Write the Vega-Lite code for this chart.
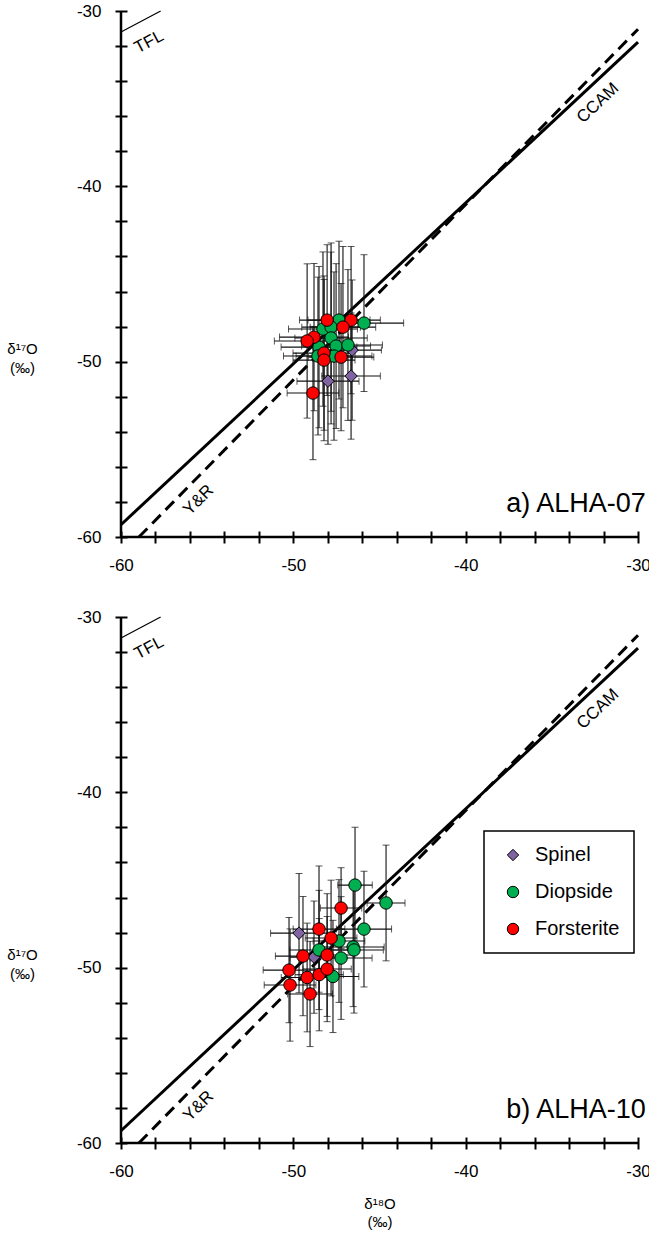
{
  "$schema": "https://vega.github.io/schema/vega-lite/v6.json",
  "padding": {"left": 6, "top": 2, "right": 0, "bottom": 5},
  "config": {
    "font": "Liberation Sans",
    "view": {"stroke": null},
    "axis": {"domain": false, "grid": false, "ticks": true, "tickColor": "#000", "tickWidth": 2, "tickSize": 12, "offset": -6, "labelFontSize": 17, "labelColor": "#000", "labelPadding": 14, "labelFlush": false, "labelOverlap": false, "titleColor": "#000", "titleFontWeight": "normal", "titleFontSize": 15},
    "legend": {"strokeColor": "#000", "strokeWidth": 1.5, "padding": 14, "labelFontSize": 20, "labelColor": "#000", "rowPadding": 17, "symbolSize": 130, "symbolStrokeColor": "#000", "symbolStrokeWidth": 1, "symbolOffset": 5, "labelOffset": 12}
  },
  "datasets": {
    "one": [{}],
    "lines": [
      {"line": "CCAM", "x": -60, "y": -59.3},
      {"line": "CCAM", "x": -30, "y": -31.77},
      {"line": "YR", "x": -58.96, "y": -60},
      {"line": "YR", "x": -30, "y": -31.04},
      {"line": "TFL", "x": -60, "y": -31.2},
      {"line": "TFL", "x": -57.7, "y": -30}
    ],
    "a": [
      {"phase": "Spinel", "x": -46.59, "y": -49.34, "xe": 1.7, "ye": 4.0},
      {"phase": "Spinel", "x": -47.99, "y": -51.11, "xe": 1.8, "ye": 3.6},
      {"phase": "Spinel", "x": -46.65, "y": -50.82, "xe": 1.7, "ye": 3.6},
      {"phase": "Diopside", "x": -45.90, "y": -47.80, "xe": 2.3, "ye": 3.9},
      {"phase": "Diopside", "x": -47.35, "y": -47.63, "xe": 1.8, "ye": 4.5},
      {"phase": "Diopside", "x": -48.28, "y": -48.14, "xe": 2.0, "ye": 4.4},
      {"phase": "Diopside", "x": -47.81, "y": -48.03, "xe": 1.7, "ye": 4.8},
      {"phase": "Diopside", "x": -48.51, "y": -49.17, "xe": 2.2, "ye": 4.6},
      {"phase": "Diopside", "x": -47.81, "y": -48.65, "xe": 2.1, "ye": 4.9},
      {"phase": "Diopside", "x": -47.52, "y": -49.11, "xe": 2.0, "ye": 4.7},
      {"phase": "Diopside", "x": -46.83, "y": -49.05, "xe": 2.0, "ye": 4.3},
      {"phase": "Diopside", "x": -48.57, "y": -49.68, "xe": 2.0, "ye": 4.5},
      {"phase": "Diopside", "x": -47.64, "y": -49.68, "xe": 2.2, "ye": 4.8},
      {"phase": "Forsterite", "x": -48.04, "y": -47.63, "xe": 1.6, "ye": 4.3},
      {"phase": "Forsterite", "x": -46.65, "y": -47.63, "xe": 1.7, "ye": 4.2},
      {"phase": "Forsterite", "x": -47.12, "y": -48.03, "xe": 1.9, "ye": 4.6},
      {"phase": "Forsterite", "x": -48.80, "y": -48.60, "xe": 2.0, "ye": 4.2},
      {"phase": "Forsterite", "x": -49.20, "y": -48.82, "xe": 1.9, "ye": 4.4},
      {"phase": "Forsterite", "x": -48.22, "y": -49.51, "xe": 1.8, "ye": 4.4},
      {"phase": "Forsterite", "x": -48.22, "y": -49.91, "xe": 1.8, "ye": 4.6},
      {"phase": "Forsterite", "x": -47.23, "y": -49.74, "xe": 1.9, "ye": 4.2},
      {"phase": "Forsterite", "x": -48.86, "y": -51.79, "xe": 1.5, "ye": 3.8}
    ],
    "b": [
      {"phase": "Spinel", "x": -49.67, "y": -48.03, "xe": 1.65, "ye": 3.4},
      {"phase": "Spinel", "x": -48.80, "y": -49.40, "xe": 1.4, "ye": 3.2},
      {"phase": "Diopside", "x": -46.42, "y": -45.29, "xe": 1.0, "ye": 3.3},
      {"phase": "Diopside", "x": -44.62, "y": -46.31, "xe": 1.1, "ye": 3.3},
      {"phase": "Diopside", "x": -45.90, "y": -47.80, "xe": 1.6, "ye": 3.3},
      {"phase": "Diopside", "x": -47.35, "y": -48.48, "xe": 1.5, "ye": 3.5},
      {"phase": "Diopside", "x": -46.53, "y": -48.82, "xe": 1.8, "ye": 3.4},
      {"phase": "Diopside", "x": -46.48, "y": -48.99, "xe": 1.7, "ye": 3.6},
      {"phase": "Diopside", "x": -48.51, "y": -48.99, "xe": 1.7, "ye": 3.4},
      {"phase": "Diopside", "x": -47.23, "y": -49.45, "xe": 1.8, "ye": 3.5},
      {"phase": "Diopside", "x": -47.70, "y": -50.50, "xe": 1.5, "ye": 3.2},
      {"phase": "Forsterite", "x": -47.23, "y": -46.60, "xe": 1.2, "ye": 2.3},
      {"phase": "Forsterite", "x": -48.51, "y": -47.80, "xe": 1.5, "ye": 3.6},
      {"phase": "Forsterite", "x": -47.81, "y": -48.31, "xe": 1.5, "ye": 3.3},
      {"phase": "Forsterite", "x": -49.44, "y": -49.34, "xe": 1.6, "ye": 3.4},
      {"phase": "Forsterite", "x": -48.04, "y": -49.28, "xe": 1.6, "ye": 3.5},
      {"phase": "Forsterite", "x": -50.25, "y": -50.14, "xe": 1.5, "ye": 3.0},
      {"phase": "Forsterite", "x": -50.19, "y": -50.99, "xe": 1.5, "ye": 3.2},
      {"phase": "Forsterite", "x": -49.20, "y": -50.56, "xe": 1.5, "ye": 3.1},
      {"phase": "Forsterite", "x": -49.03, "y": -51.50, "xe": 1.3, "ye": 3.0},
      {"phase": "Forsterite", "x": -48.50, "y": -50.40, "xe": 1.4, "ye": 3.2},
      {"phase": "Forsterite", "x": -48.04, "y": -50.08, "xe": 1.4, "ye": 3.0}
    ],
    "labels": [
      {"name": "TFL", "x": -58.37, "y": -31.77},
      {"name": "CCAM", "x": -32.32, "y": -35.25},
      {"name": "Y&R", "x": -55.5, "y": -57.9}
    ]
  },
  "spacing": 35,
  "resolve": {"scale": {"color": "independent", "shape": "independent"}, "legend": {"color": "independent", "shape": "independent"}},
  "vconcat": [
    {
      "width": 517, "height": 526,
      "layer": [
        {"data": {"name": "one"}, "mark": {"type": "rule", "color": "#000", "strokeWidth": 2.5}, "encoding": {"x": {"datum": -60, "type": "quantitative", "title": null, "scale": {"domain": [-60, -30], "nice": false, "zero": false}}, "y": {"datum": -60, "type": "quantitative", "title": ["δ¹⁷O", "(‰)"], "scale": {"domain": [-60, -30], "nice": false, "zero": false}}, "y2": {"datum": -30}}},
        {"data": {"name": "one"}, "mark": {"type": "rule", "color": "#000", "strokeWidth": 2.5}, "encoding": {"y": {"datum": -60, "type": "quantitative", "title": ["δ¹⁷O", "(‰)"], "scale": {"domain": [-60, -30], "nice": false, "zero": false}}, "x": {"datum": -60, "type": "quantitative", "title": null, "scale": {"domain": [-60, -30], "nice": false, "zero": false}}, "x2": {"datum": -30}}},
        {"data": {"name": "lines"}, "transform": [{"filter": "datum.line === 'CCAM'"}], "mark": {"type": "line", "color": "#000", "strokeWidth": 3}, "encoding": {"x": {"field": "x", "type": "quantitative", "title": null, "scale": {"domain": [-60, -30], "nice": false, "zero": false}}, "y": {"field": "y", "type": "quantitative", "title": ["δ¹⁷O", "(‰)"], "scale": {"domain": [-60, -30], "nice": false, "zero": false}}}},
        {"data": {"name": "lines"}, "transform": [{"filter": "datum.line === 'YR'"}], "mark": {"type": "line", "color": "#000", "strokeWidth": 3, "strokeDash": [12, 7]}, "encoding": {"x": {"field": "x", "type": "quantitative", "title": null, "scale": {"domain": [-60, -30], "nice": false, "zero": false}}, "y": {"field": "y", "type": "quantitative", "title": ["δ¹⁷O", "(‰)"], "scale": {"domain": [-60, -30], "nice": false, "zero": false}}}},
        {"data": {"name": "lines"}, "transform": [{"filter": "datum.line === 'TFL'"}], "mark": {"type": "line", "color": "#000", "strokeWidth": 1.2}, "encoding": {"x": {"field": "x", "type": "quantitative", "title": null, "scale": {"domain": [-60, -30], "nice": false, "zero": false}}, "y": {"field": "y", "type": "quantitative", "title": ["δ¹⁷O", "(‰)"], "scale": {"domain": [-60, -30], "nice": false, "zero": false}}}},
        {"data": {"name": "labels"}, "transform": [{"filter": "datum.name === 'TFL'"}], "mark": {"type": "text", "angle": -28, "fontSize": 17, "color": "#000"}, "encoding": {"x": {"field": "x", "type": "quantitative", "title": null}, "y": {"field": "y", "type": "quantitative", "title": ["δ¹⁷O", "(‰)"]}, "text": {"field": "name"}}},
        {"data": {"name": "labels"}, "transform": [{"filter": "datum.name === 'CCAM'"}], "mark": {"type": "text", "angle": -43, "fontSize": 17, "color": "#000"}, "encoding": {"x": {"field": "x", "type": "quantitative", "title": null}, "y": {"field": "y", "type": "quantitative", "title": ["δ¹⁷O", "(‰)"]}, "text": {"field": "name"}}},
        {"data": {"name": "labels"}, "transform": [{"filter": "datum.name === 'Y&R'"}], "mark": {"type": "text", "angle": -45, "fontSize": 17, "color": "#000"}, "encoding": {"x": {"field": "x", "type": "quantitative", "title": null}, "y": {"field": "y", "type": "quantitative", "title": ["δ¹⁷O", "(‰)"]}, "text": {"field": "name"}}},
        {"data": {"values": [{"panel": "a) ALHA-07", "x": -29.55, "y": -58.56}]}, "mark": {"type": "text", "align": "right", "baseline": "alphabetic", "fontSize": 27, "color": "#000"}, "encoding": {"x": {"field": "x", "type": "quantitative", "title": null}, "y": {"field": "y", "type": "quantitative", "title": ["δ¹⁷O", "(‰)"]}, "text": {"field": "panel"}}},
        {"data": {"name": "a"}, "mark": {"type": "errorbar", "ticks": {"size": 7}, "rule": {"strokeWidth": 1.1}, "color": "#111"}, "encoding": {"x": {"field": "x", "type": "quantitative", "title": null}, "xError": {"field": "xe"}, "y": {"field": "y", "type": "quantitative", "title": ["δ¹⁷O", "(‰)"]}}},
        {"data": {"name": "a"}, "mark": {"type": "errorbar", "ticks": {"size": 7}, "rule": {"strokeWidth": 1.1}, "color": "#111"}, "encoding": {"y": {"field": "y", "type": "quantitative", "title": ["δ¹⁷O", "(‰)"]}, "yError": {"field": "ye"}, "x": {"field": "x", "type": "quantitative", "title": null}}},
        {"data": {"name": "a"}, "mark": {"type": "point", "filled": true, "stroke": "#000", "strokeWidth": 1, "opacity": 1, "size": 155},
          "encoding": {
            "x": {"field": "x", "type": "quantitative", "title": null, "scale": {"domain": [-60, -30], "nice": false, "zero": false}, "axis": {"title": null, "tickCount": 40, "labelOverlap": false, "labelFlush": false, "values": [-60,-58,-56,-54,-52,-50,-48,-46,-44,-42,-40,-38,-36,-34,-32,-30], "labelExpr": "datum.value % 10 === 0 ? '-' + abs(datum.value) : ''"}},
            "y": {"field": "y", "type": "quantitative", "title": ["δ¹⁷O", "(‰)"], "scale": {"domain": [-60, -30], "nice": false, "zero": false}, "axis": {"title": ["δ¹⁷O", "(‰)"], "tickCount": 40, "labelOverlap": false, "labelFlush": false, "values": [-60,-58,-56,-54,-52,-50,-48,-46,-44,-42,-40,-38,-36,-34,-32,-30], "labelExpr": "datum.value % 10 === 0 ? '-' + abs(datum.value) : ''", "titleAngle": 0, "titleAlign": "center", "titleBaseline": "alphabetic", "titleX": -105, "titleY": 342, "titleLineHeight": 19}},
            "color": {"field": "phase", "type": "nominal", "scale": {"domain": ["Spinel", "Diopside", "Forsterite"], "range": ["#8064A2", "#00B050", "#FF0000"]}, "legend": null},
            "shape": {"field": "phase", "type": "nominal", "scale": {"domain": ["Spinel", "Diopside", "Forsterite"], "range": ["diamond", "circle", "circle"]}, "legend": null}
          }}
      ]
    },
    {
      "width": 517, "height": 526,
      "layer": [
        {"data": {"name": "one"}, "mark": {"type": "rule", "color": "#000", "strokeWidth": 2.5}, "encoding": {"x": {"datum": -60, "type": "quantitative", "title": ["δ¹⁸O", "(‰)"], "scale": {"domain": [-60, -30], "nice": false, "zero": false}}, "y": {"datum": -60, "type": "quantitative", "title": ["δ¹⁷O", "(‰)"], "scale": {"domain": [-60, -30], "nice": false, "zero": false}}, "y2": {"datum": -30}}},
        {"data": {"name": "one"}, "mark": {"type": "rule", "color": "#000", "strokeWidth": 2.5}, "encoding": {"y": {"datum": -60, "type": "quantitative", "title": ["δ¹⁷O", "(‰)"], "scale": {"domain": [-60, -30], "nice": false, "zero": false}}, "x": {"datum": -60, "type": "quantitative", "title": ["δ¹⁸O", "(‰)"], "scale": {"domain": [-60, -30], "nice": false, "zero": false}}, "x2": {"datum": -30}}},
        {"data": {"name": "lines"}, "transform": [{"filter": "datum.line === 'CCAM'"}], "mark": {"type": "line", "color": "#000", "strokeWidth": 3}, "encoding": {"x": {"field": "x", "type": "quantitative", "title": ["δ¹⁸O", "(‰)"], "scale": {"domain": [-60, -30], "nice": false, "zero": false}}, "y": {"field": "y", "type": "quantitative", "title": ["δ¹⁷O", "(‰)"], "scale": {"domain": [-60, -30], "nice": false, "zero": false}}}},
        {"data": {"name": "lines"}, "transform": [{"filter": "datum.line === 'YR'"}], "mark": {"type": "line", "color": "#000", "strokeWidth": 3, "strokeDash": [12, 7]}, "encoding": {"x": {"field": "x", "type": "quantitative", "title": ["δ¹⁸O", "(‰)"], "scale": {"domain": [-60, -30], "nice": false, "zero": false}}, "y": {"field": "y", "type": "quantitative", "title": ["δ¹⁷O", "(‰)"], "scale": {"domain": [-60, -30], "nice": false, "zero": false}}}},
        {"data": {"name": "lines"}, "transform": [{"filter": "datum.line === 'TFL'"}], "mark": {"type": "line", "color": "#000", "strokeWidth": 1.2}, "encoding": {"x": {"field": "x", "type": "quantitative", "title": ["δ¹⁸O", "(‰)"], "scale": {"domain": [-60, -30], "nice": false, "zero": false}}, "y": {"field": "y", "type": "quantitative", "title": ["δ¹⁷O", "(‰)"], "scale": {"domain": [-60, -30], "nice": false, "zero": false}}}},
        {"data": {"name": "labels"}, "transform": [{"filter": "datum.name === 'TFL'"}], "mark": {"type": "text", "angle": -28, "fontSize": 17, "color": "#000"}, "encoding": {"x": {"field": "x", "type": "quantitative", "title": ["δ¹⁸O", "(‰)"]}, "y": {"field": "y", "type": "quantitative", "title": ["δ¹⁷O", "(‰)"]}, "text": {"field": "name"}}},
        {"data": {"name": "labels"}, "transform": [{"filter": "datum.name === 'CCAM'"}], "mark": {"type": "text", "angle": -43, "fontSize": 17, "color": "#000"}, "encoding": {"x": {"field": "x", "type": "quantitative", "title": ["δ¹⁸O", "(‰)"]}, "y": {"field": "y", "type": "quantitative", "title": ["δ¹⁷O", "(‰)"]}, "text": {"field": "name"}}},
        {"data": {"name": "labels"}, "transform": [{"filter": "datum.name === 'Y&R'"}], "mark": {"type": "text", "angle": -45, "fontSize": 17, "color": "#000"}, "encoding": {"x": {"field": "x", "type": "quantitative", "title": ["δ¹⁸O", "(‰)"]}, "y": {"field": "y", "type": "quantitative", "title": ["δ¹⁷O", "(‰)"]}, "text": {"field": "name"}}},
        {"data": {"values": [{"panel": "b) ALHA-10", "x": -29.55, "y": -58.56}]}, "mark": {"type": "text", "align": "right", "baseline": "alphabetic", "fontSize": 27, "color": "#000"}, "encoding": {"x": {"field": "x", "type": "quantitative", "title": ["δ¹⁸O", "(‰)"]}, "y": {"field": "y", "type": "quantitative", "title": ["δ¹⁷O", "(‰)"]}, "text": {"field": "panel"}}},
        {"data": {"name": "b"}, "mark": {"type": "errorbar", "ticks": {"size": 7}, "rule": {"strokeWidth": 1.1}, "color": "#111"}, "encoding": {"x": {"field": "x", "type": "quantitative", "title": ["δ¹⁸O", "(‰)"]}, "xError": {"field": "xe"}, "y": {"field": "y", "type": "quantitative", "title": ["δ¹⁷O", "(‰)"]}}},
        {"data": {"name": "b"}, "mark": {"type": "errorbar", "ticks": {"size": 7}, "rule": {"strokeWidth": 1.1}, "color": "#111"}, "encoding": {"y": {"field": "y", "type": "quantitative", "title": ["δ¹⁷O", "(‰)"]}, "yError": {"field": "ye"}, "x": {"field": "x", "type": "quantitative", "title": ["δ¹⁸O", "(‰)"]}}},
        {"data": {"name": "b"}, "mark": {"type": "point", "filled": true, "stroke": "#000", "strokeWidth": 1, "opacity": 1, "size": 155},
          "encoding": {
            "x": {"field": "x", "type": "quantitative", "title": ["δ¹⁸O", "(‰)"], "scale": {"domain": [-60, -30], "nice": false, "zero": false}, "axis": {"title": ["δ¹⁸O", "(‰)"], "tickCount": 40, "labelOverlap": false, "labelFlush": false, "values": [-60,-58,-56,-54,-52,-50,-48,-46,-44,-42,-40,-38,-36,-34,-32,-30], "labelExpr": "datum.value % 10 === 0 ? '-' + abs(datum.value) : ''", "titleBaseline": "alphabetic", "titleY": 71, "titleLineHeight": 18}},
            "y": {"field": "y", "type": "quantitative", "title": ["δ¹⁷O", "(‰)"], "scale": {"domain": [-60, -30], "nice": false, "zero": false}, "axis": {"title": ["δ¹⁷O", "(‰)"], "tickCount": 40, "labelOverlap": false, "labelFlush": false, "values": [-60,-58,-56,-54,-52,-50,-48,-46,-44,-42,-40,-38,-36,-34,-32,-30], "labelExpr": "datum.value % 10 === 0 ? '-' + abs(datum.value) : ''", "titleAngle": 0, "titleAlign": "center", "titleBaseline": "alphabetic", "titleX": -105, "titleY": 342, "titleLineHeight": 19}},
            "color": {"field": "phase", "type": "nominal", "title": null, "scale": {"domain": ["Spinel", "Diopside", "Forsterite"], "range": ["#8064A2", "#00B050", "#FF0000"]}, "legend": {"orient": "none", "legendX": 363, "legendY": 214, "title": null}},
            "shape": {"field": "phase", "type": "nominal", "title": null, "scale": {"domain": ["Spinel", "Diopside", "Forsterite"], "range": ["diamond", "circle", "circle"]}, "legend": {"orient": "none", "legendX": 363, "legendY": 214, "title": null}}
          }}
      ]
    }
  ]
}
